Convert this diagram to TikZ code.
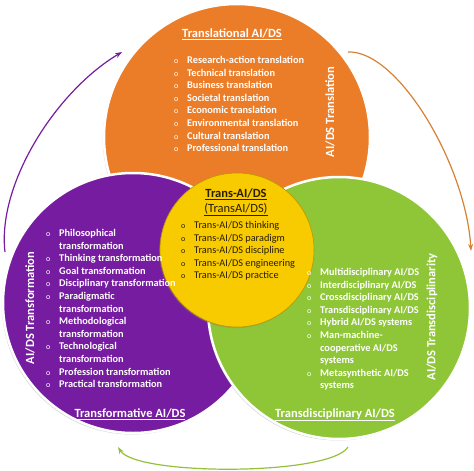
\documentclass[tikz,border=0pt]{standalone}
\usepackage{fontspec}
\setmainfont{Carlito}
\usetikzlibrary{shadows,arrows.meta}
\definecolor{cOrange}{RGB}{236,125,40}
\definecolor{cPurple}{RGB}{118,28,160}
\definecolor{cGreen}{RGB}{142,198,56}
\definecolor{cYellow}{RGB}{248,202,0}
\definecolor{cText}{RGB}{40,30,0}
\newcommand{\bb}{\makebox[13pt][l]{\mdseries\fontsize{8}{8}\selectfont o}}
\newcommand{\cc}{\hspace*{13pt}}
\tikzset{
  ring/.style={circle, draw=white, line width=2.5pt, inner sep=0pt,
    drop shadow={opacity=0.35, shadow xshift=-1.2pt, shadow yshift=-1.5pt}},
  items/.style={align=left, anchor=base west, inner sep=0pt, text=white,
    font=\bfseries\fontsize{10.3}{12.6}\selectfont},
  yitems/.style={align=left, anchor=base west, inner sep=0pt, text=cText,
    font=\fontsize{10.3}{12.6}\selectfont},
  title/.style={text=white, anchor=base, inner sep=0pt,
    font=\bfseries\fontsize{12.5}{14}\selectfont},
  side/.style={text=white, inner sep=0pt, rotate=90,
    font=\bfseries\fontsize{12.5}{14}\selectfont},
  cyc/.style={line width=1.2pt, -{Stealth[length=7pt,width=5pt]}}
}
\begin{document}
\begin{tikzpicture}[x=1pt,y=-1pt]
\useasboundingbox (0,0) rectangle (474,471);
% circles
\node[ring, fill=cOrange, minimum size=266pt] (tr) at (237,137) {};
\node[ring, fill=cPurple, minimum size=260pt] (tf) at (133,303) {};
\node[ring, fill=cGreen, minimum size=262pt] (td) at (339,308) {};
\node[circle, fill=cYellow, draw=cYellow!75!black, line width=0.6pt, inner sep=0pt,
  minimum size=154pt, drop shadow={opacity=0.3, shadow xshift=-1pt, shadow yshift=-1.2pt}] (core) at (237,250) {};
% orange (anchor = baseline of last line)
\node[title] (trT) at (232,37) {\underline{Translational AI/DS}};
\node[items] (trL) at (174,151.7) {\bb Research-action translation\\
\bb Technical translation\\
\bb Business translation\\
\bb Societal translation\\
\bb Economic translation\\
\bb Environmental translation\\
\bb Cultural translation\\
\bb Professional translation};
\node[side] (trS) at (330,112) {AI/DS Translation};
% yellow
\node[title, text=cText] (coT) at (236,197) {\underline{Trans-AI/DS}};
\node[title, text=cText, font=\fontsize{12.5}{14}\selectfont] (coT2) at (236,212) {\underline{(TransAI/DS)}};
\node[yitems] (coL) at (181,278.9) {\bb Trans-AI/DS thinking\\
\bb Trans-AI/DS paradigm\\
\bb Trans-AI/DS discipline\\
\bb Trans-AI/DS engineering\\
\bb Trans-AI/DS practice};
% purple
\node[items] (tfL) at (46,387.7) {\bb Philosophical\\
\cc transformation\\
\bb Thinking transformation\\
\bb Goal transformation\\
\bb Disciplinary transformation\\
\bb Paradigmatic\\
\cc transformation\\
\bb Methodological\\
\cc transformation\\
\bb Technological\\
\cc transformation\\
\bb Profession transformation\\
\bb Practical transformation};
\node[title] (tfT) at (130,417) {\underline{Transformative AI/DS}};
\node[side] (tfS) at (30,308) {AI/DS Transformation};
% green
\node[items] (tdL) at (307,388.9) {\bb Multidisciplinary AI/DS\\
\bb Interdisciplinary AI/DS\\
\bb Crossdisciplinary AI/DS\\
\bb Transdisciplinary AI/DS\\
\bb Hybrid AI/DS systems\\
\bb Man-machine-\\
\cc cooperative AI/DS\\
\cc systems\\
\bb Metasynthetic AI/DS\\
\cc systems};
\node[title] (tdT) at (335,417) {\underline{Transdisciplinary AI/DS}};
\node[side] (tdS) at (432,317) {AI/DS Transdisciplinarity};
% cycle arrows
\coordinate (la0) at (5,252);
\coordinate (la1) at (122,52);
\coordinate (ra0) at (348,52);
\coordinate (ra1) at (471,251);
\coordinate (ba0) at (348,447);
\coordinate (ba1) at (118,447);
\draw[cyc, draw=cPurple] (la0) .. controls (-3,185) and (55,92) .. (la1);
\draw[cyc, draw={rgb,255:red,214;green,130;blue,52}] (ra0) .. controls (398,50) and (466,165) .. (ra1);
\draw[cyc, draw={rgb,255:red,150;green,192;blue,60}] (ba0) .. controls (330,476) and (136,476) .. (ba1);
\end{tikzpicture}
\end{document}
